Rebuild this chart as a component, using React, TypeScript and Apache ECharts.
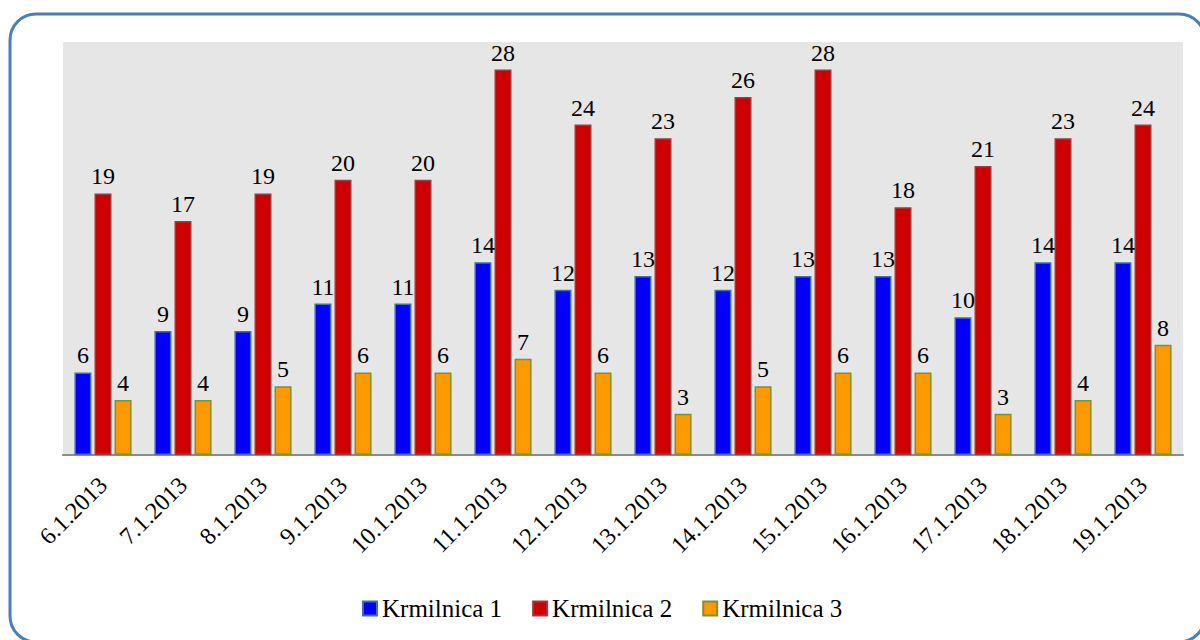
import React, { useEffect, useRef } from "react";
import * as echarts from "echarts";

const categories = ["6.1.2013","7.1.2013","8.1.2013","9.1.2013","10.1.2013","11.1.2013","12.1.2013","13.1.2013","14.1.2013","15.1.2013","16.1.2013","17.1.2013","18.1.2013","19.1.2013"];
const krmilnica1 = [6, 9, 9, 11, 11, 14, 12, 13, 12, 13, 13, 10, 14, 14];
const krmilnica2 = [19, 17, 19, 20, 20, 28, 24, 23, 26, 28, 18, 21, 23, 24];
const krmilnica3 = [4, 4, 5, 6, 6, 7, 6, 3, 5, 6, 6, 3, 4, 8];
const seriesNames = ["Krmilnica 1", "Krmilnica 2", "Krmilnica 3"];

const FONT = "Liberation Serif";
const FS = 24;

export default function App() {
  const ref = useRef<HTMLDivElement>(null);
  useEffect(() => {
    if (!ref.current) return;
    const chart = echarts.init(ref.current, null, { renderer: "svg" });
    const label = { show: true, position: "top", distance: 5, fontSize: FS, fontFamily: FONT, color: "#000" };
    const mk = (name: string, data: number[], color: string, border: string) => ({
      name,
      type: "bar",
      data,
      barWidth: 17,
      barGap: "18%",
      itemStyle: { color, borderColor: border, borderWidth: 1.5 },
      label,
    });
    chart.setOption({
      animation: false,
      textStyle: { fontFamily: FONT },
      graphic: [
        {
          type: "rect",
          shape: { x: 10, y: 14, width: 1195, height: 628, r: 26 },
          style: { fill: "none", stroke: "#4a7ebb", lineWidth: 3 },
          z: -10,
        },
      ],
      grid: {
        left: 63, right: 17, top: 42, bottom: 185,
        show: true, backgroundColor: "#e6e6e6", borderWidth: 0,
      },
      legend: {
        data: seriesNames,
        left: 357, top: 591,
        itemWidth: 14, itemHeight: 14, itemGap: 30,
        icon: "rect",
        textStyle: { fontSize: 25, fontFamily: FONT, color: "#000" },
      },
      xAxis: {
        type: "category",
        data: categories,
        axisLine: { lineStyle: { color: "#8c8c8c", width: 2 } },
        axisTick: { show: false },
        axisLabel: { rotate: 45, margin: 26, fontSize: FS, fontFamily: FONT, color: "#000", interval: 0 },
      },
      yAxis: { type: "value", min: 0, max: 30, show: false, splitLine: { show: false } },
      series: [
        mk(seriesNames[0], krmilnica1, "#0000ff", "#3f6fb0"),
        mk(seriesNames[1], krmilnica2, "#cc0000", "#a0393b"),
        mk(seriesNames[2], krmilnica3, "#ff9900", "#77933c"),
      ],
    });
    return () => chart.dispose();
  }, []);
  return <div ref={ref} style={{ position: "absolute", left: 0, top: 0, width: 1200, height: 640 }} />;
}
